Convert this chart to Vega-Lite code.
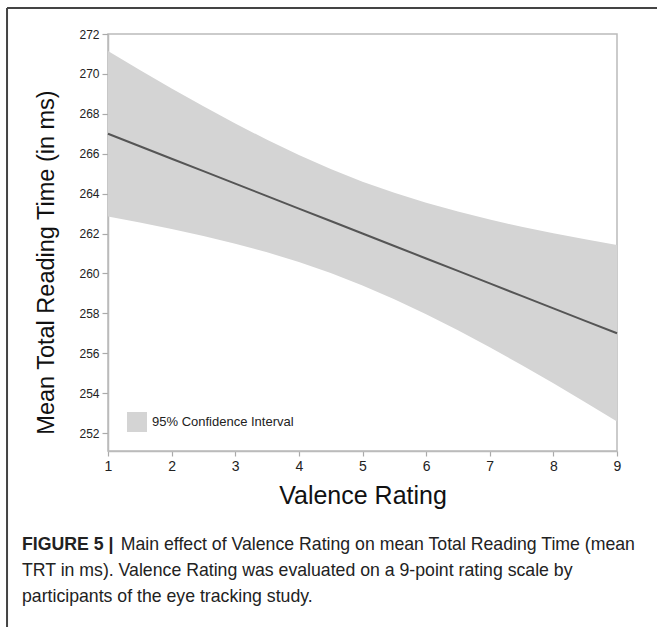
{
  "$schema": "https://vega.github.io/schema/vega-lite/v6.json",
  "width": 509,
  "height": 417,
  "autosize": {"type": "none"},
  "padding": {"left": 108, "top": 34, "right": 40, "bottom": 176},
  "background": "white",
  "config": {
    "font": "Liberation Sans",
    "view": {"stroke": "#bbbbbb", "strokeWidth": 1.5}
  },
  "datasets": {
    "fit": [
      {"x": 1, "mean": 267.0, "lo": 262.85, "hi": 271.15, "band": "95% Confidence Interval"},
      {"x": 1.5, "mean": 266.375, "lo": 262.55, "hi": 270.20, "band": "95% Confidence Interval"},
      {"x": 2, "mean": 265.75, "lo": 262.23, "hi": 269.27, "band": "95% Confidence Interval"},
      {"x": 2.5, "mean": 265.125, "lo": 261.88, "hi": 268.38, "band": "95% Confidence Interval"},
      {"x": 3, "mean": 264.5, "lo": 261.49, "hi": 267.51, "band": "95% Confidence Interval"},
      {"x": 3.5, "mean": 263.875, "lo": 261.06, "hi": 266.70, "band": "95% Confidence Interval"},
      {"x": 4, "mean": 263.25, "lo": 260.57, "hi": 265.93, "band": "95% Confidence Interval"},
      {"x": 4.5, "mean": 262.625, "lo": 260.02, "hi": 265.23, "band": "95% Confidence Interval"},
      {"x": 5, "mean": 262.0, "lo": 259.40, "hi": 264.60, "band": "95% Confidence Interval"},
      {"x": 5.5, "mean": 261.375, "lo": 258.71, "hi": 264.04, "band": "95% Confidence Interval"},
      {"x": 6, "mean": 260.75, "lo": 257.96, "hi": 263.54, "band": "95% Confidence Interval"},
      {"x": 6.5, "mean": 260.125, "lo": 257.15, "hi": 263.10, "band": "95% Confidence Interval"},
      {"x": 7, "mean": 259.5, "lo": 256.30, "hi": 262.70, "band": "95% Confidence Interval"},
      {"x": 7.5, "mean": 258.875, "lo": 255.41, "hi": 262.34, "band": "95% Confidence Interval"},
      {"x": 8, "mean": 258.25, "lo": 254.49, "hi": 262.01, "band": "95% Confidence Interval"},
      {"x": 8.5, "mean": 257.625, "lo": 253.54, "hi": 261.71, "band": "95% Confidence Interval"},
      {"x": 9, "mean": 257.0, "lo": 252.58, "hi": 261.42, "band": "95% Confidence Interval"}
    ],
    "one": [{}]
  },
  "layer": [
    {
      "data": {"name": "fit"},
      "mark": {"type": "area", "opacity": 1},
      "encoding": {
        "x": {
          "field": "x", "type": "quantitative",
          "scale": {"domain": [1, 9], "nice": false, "zero": false},
          "axis": {
            "title": "Valence Rating", "titleFontSize": 25, "titleFontWeight": "normal",
            "titleColor": "#111111", "titlePadding": 10,
            "values": [1, 2, 3, 4, 5, 6, 7, 8, 9], "format": "d",
            "labelFontSize": 14, "labelColor": "#222222", "labelPadding": 3, "labelFlush": false,
            "tickColor": "#aaaaaa", "tickSize": 5, "tickWidth": 1.2,
            "domainColor": "#bbbbbb", "domainWidth": 1.5, "grid": false
          }
        },
        "y": {
          "field": "lo", "type": "quantitative",
          "scale": {"domain": [251.1, 272], "nice": false, "zero": false},
          "axis": {
            "title": "Mean Total Reading Time (in ms)", "titleFontSize": 23.5, "titleFontWeight": "normal",
            "titleColor": "#111111", "titlePadding": 20, "titleY": 228,
            "values": [252, 253, 254, 255, 256, 257, 258, 259, 260, 261, 262, 263, 264, 265, 266, 267, 268, 269, 270, 271, 272],
            "labelExpr": "datum.value % 2 === 0 ? datum.label : ''",
            "labelFontSize": 12, "labelColor": "#222222", "labelPadding": 3,
            "tickColor": "#aaaaaa", "tickWidth": 1.2,
            "tickSize": {"condition": {"test": "datum.value % 2 === 0", "value": 6}, "value": 3},
            "domainColor": "#bbbbbb", "domainWidth": 1.5, "grid": false
          }
        },
        "y2": {"field": "hi"},
        "color": {
          "field": "band", "type": "nominal",
          "scale": {"range": ["#d4d4d4"]},
          "legend": {
            "title": null, "orient": "bottom-left", "offset": 19, "padding": 0,
            "symbolType": "square", "symbolSize": 400, "symbolStrokeWidth": 0,
            "labelFontSize": 13, "labelColor": "#222222", "labelOffset": 5
          }
        }
      }
    },
    {
      "data": {"name": "fit"},
      "mark": {"type": "line", "color": "#555555", "strokeWidth": 2},
      "encoding": {
        "x": {"field": "x", "type": "quantitative", "title": "Valence Rating"},
        "y": {"field": "mean", "type": "quantitative", "title": "Mean Total Reading Time (in ms)"}
      }
    },
    {
      "data": {"name": "one"},
      "mark": {"type": "text", "text": "FIGURE 5 |", "fontWeight": "bold", "fontSize": 17.7, "align": "left", "baseline": "middle", "color": "#222222"},
      "encoding": {
        "x": {"datum": -0.352, "type": "quantitative", "title": "Valence Rating"},
        "y": {"datum": 246.39, "type": "quantitative", "title": "Mean Total Reading Time (in ms)"}
      }
    },
    {
      "data": {"name": "one"},
      "mark": {"type": "text", "text": "Main effect of Valence Rating on mean Total Reading Time (mean", "fontSize": 17.7, "align": "left", "baseline": "middle", "color": "#222222"},
      "encoding": {
        "x": {"datum": 1.2, "type": "quantitative", "title": "Valence Rating"},
        "y": {"datum": 246.39, "type": "quantitative", "title": "Mean Total Reading Time (in ms)"}
      }
    },
    {
      "data": {"name": "one"},
      "mark": {"type": "text", "text": "TRT in ms). Valence Rating was evaluated on a 9-point rating scale by", "fontSize": 17.7, "align": "left", "baseline": "middle", "color": "#222222"},
      "encoding": {
        "x": {"datum": -0.352, "type": "quantitative", "title": "Valence Rating"},
        "y": {"datum": 245.08, "type": "quantitative", "title": "Mean Total Reading Time (in ms)"}
      }
    },
    {
      "data": {"name": "one"},
      "mark": {"type": "text", "text": "participants of the eye tracking study.", "fontSize": 17.7, "align": "left", "baseline": "middle", "color": "#222222"},
      "encoding": {
        "x": {"datum": -0.352, "type": "quantitative", "title": "Valence Rating"},
        "y": {"datum": 243.78, "type": "quantitative", "title": "Mean Total Reading Time (in ms)"}
      }
    },
    {
      "data": {"name": "one"},
      "mark": {"type": "rule", "color": "#444444", "strokeWidth": 2},
      "encoding": {
        "x": {"datum": -0.587, "type": "quantitative", "title": "Valence Rating"},
        "x2": {"datum": 9.66},
        "y": {"datum": 273.30, "type": "quantitative", "title": "Mean Total Reading Time (in ms)"}
      }
    },
    {
      "data": {"name": "one"},
      "mark": {"type": "rule", "color": "#444444", "strokeWidth": 2},
      "encoding": {
        "x": {"datum": -0.587, "type": "quantitative", "title": "Valence Rating"},
        "y": {"datum": 273.30, "type": "quantitative", "title": "Mean Total Reading Time (in ms)"},
        "y2": {"datum": 242.2}
      }
    }
  ]
}
